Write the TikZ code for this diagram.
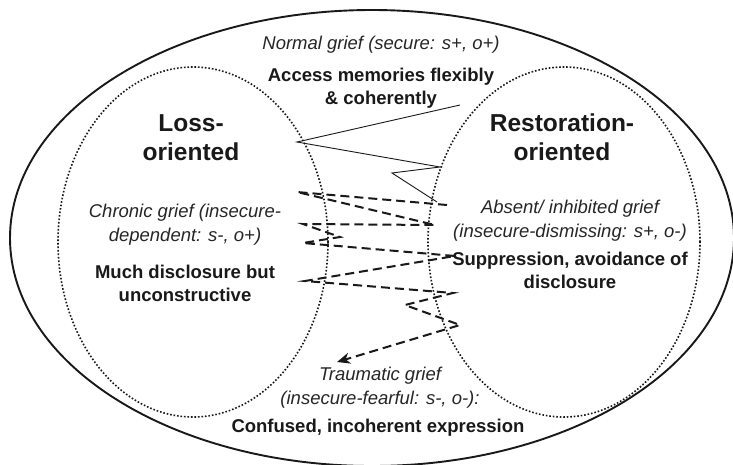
\documentclass[tikz,border=0pt]{standalone}
\usepackage{fontspec}
\setmainfont{Liberation Sans}
\usetikzlibrary{arrows.meta, positioning}

\begin{document}
\begin{tikzpicture}[
			x=1pt, y=-1pt,
			% Style for the outer frame and the two orientations
			frame/.style={draw=black!90, line width=1.9pt},
			orient-ring/.style={draw=black!90, line width=1.6pt, dash pattern=on 1.6pt off 1.9pt},
			% Styles for the oscillation paths
			osc-normal/.style={draw=black!90, line width=0.9pt},
			osc-disturbed/.style={draw=black!90, line width=2pt, dash pattern=on 9pt off 5pt,
				-{Stealth[length=13pt, width=11pt, inset=4pt]}},
			% Title & Text
			mainTitle/.style={font=\fontsize{24.5}{29}\selectfont\bfseries, text=black!90, align=center, inner sep=0pt},
			grief label/.style={font=\fontsize{18.5}{24}\selectfont\itshape, text=black!85, align=center, inner sep=0pt},
			term label/.style={font=\fontsize{18.5}{23}\selectfont\bfseries, text=black!90, align=center, inner sep=0pt}
			]
			
			\useasboundingbox (0,0) rectangle (733,464);
			\fill[white] (0,0) rectangle (733,464);
			
			% ==============================================================================
			% FRAME: the whole of coping with loss
			% ==============================================================================
			\draw[frame] (372,238) ellipse [x radius=362pt, y radius=228pt];
			
			\node[grief label] (normal) at (381,45) {Normal grief (secure: s+, o+)};
			\node[term label] (access) at (381,88.5) {Access memories flexibly \\ \& coherently};
			
			% ==============================================================================
			% LOSS-ORIENTED
			% ==============================================================================
			\draw[orient-ring] (193,242) ellipse [x radius=135pt, y radius=175pt];
			\node[mainTitle] (loss) at (191,137.5) {Loss- \\ oriented};
			
			\node[grief label] (chronic) at (185,225) {Chronic grief (insecure- \\ dependent: s-, o+)};
			\node[term label] (much) at (185,283.5) {Much disclosure but \\ unconstructive};
			
			% ==============================================================================
			% RESTORATION-ORIENTED
			% ==============================================================================
			\draw[orient-ring] (564,242) ellipse [x radius=136pt, y radius=175pt];
			\node[mainTitle] (restoration) at (562,137.5) {Restoration- \\ oriented};
			
			\node[grief label] (absent) at (570,221) {Absent/ inhibited grief \\ (insecure-dismissing: s+, o-)};
			\node[term label] (suppression) at (570,270) {Suppression, avoidance of \\ disclosure};
			
			% ==============================================================================
			% TRAUMATIC GRIEF
			% ==============================================================================
			\node[grief label] (traumatic) at (380,387.5) {Traumatic grief \\ (insecure-fearful: s-, o-):};
			\node[term label] (confused) at (378,428) {Confused, incoherent expression};
			
			% ==============================================================================
			% OSCILLATION
			% ==============================================================================
			\coordinate (normal-start) at (460,105);
			\coordinate (normal-end) at (437,202);
			\coordinate (disturbed-start) at (447,205);
			\coordinate (disturbed-end) at (337,362);
			
			\draw[osc-normal] (normal-start) -- (297,142) -- (440,167) -- (392,173) -- (normal-end);
			\draw[osc-disturbed] (disturbed-start) -- (297,192) -- (435,225) -- (303,224) -- (340,237)
				-- (303,243) -- (455,256) -- (305,281) -- (453,293) -- (405,305) -- (460,325)
				-- (disturbed-end);
			
		\end{tikzpicture}
\end{document}
